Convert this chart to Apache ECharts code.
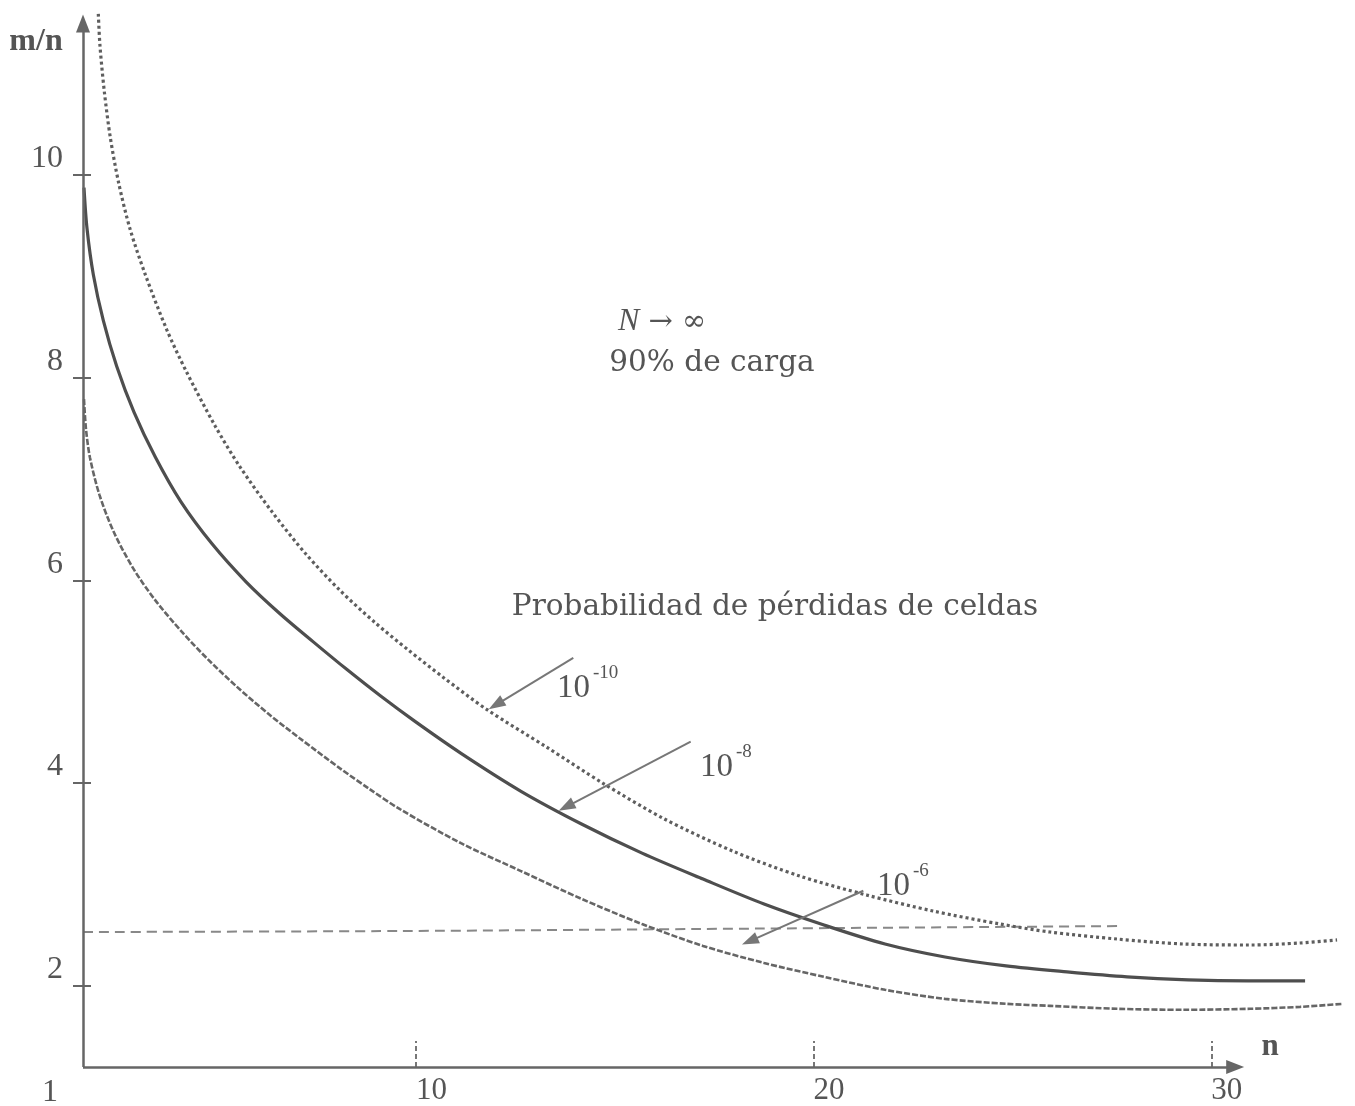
<!DOCTYPE html>
<html><head><meta charset="utf-8">
<script src="https://cdn.jsdelivr.net/npm/echarts@6/dist/echarts.min.js"></script>
<style>html,body{margin:0;padding:0;background:#fff}#c{width:1355px;height:1106px}</style>
</head><body><div id="c"></div>
<script>
// ---- data ----
const xTicks = [10, 20, 30];
const yTicks = [2, 4, 6, 8, 10];

// P = 1e-10 (dotted)
const nP10 = [2.015, 2.057, 2.166, 2.316, 2.528, 2.812, 3.197, 3.735, 4.220, 4.949, 5.578, 6.400, 7.230, 8.092, 8.972, 9.810, 10.690, 11.781, 13.297, 14.705, 16.214, 17.974, 19.659, 21.343, 23.003, 24.688, 25.945, 27.630, 29.289, 30.975, 32.232, 33.162];
const mP10 = [11.586, 11.270, 10.820, 10.368, 9.916, 9.465, 9.014, 8.472, 8.065, 7.524, 7.118, 6.666, 6.261, 5.900, 5.583, 5.312, 5.042, 4.726, 4.352, 3.998, 3.653, 3.328, 3.082, 2.895, 2.738, 2.610, 2.531, 2.462, 2.413, 2.403, 2.423, 2.453];

// P = 1e-8 (solid)
const nP8 = [1.655, 1.731, 1.889, 2.140, 2.477, 2.912, 3.448, 4.094, 4.874, 5.729, 6.583, 7.413, 8.268, 9.098, 9.978, 11.135, 12.643, 14.177, 15.686, 17.220, 18.754, 20.262, 21.796, 23.305, 24.839, 26.372, 27.881, 29.415, 30.924, 32.358];
const mP8 = [9.872, 9.469, 9.016, 8.563, 8.111, 7.658, 7.215, 6.773, 6.359, 5.985, 5.670, 5.395, 5.119, 4.863, 4.608, 4.293, 3.919, 3.594, 3.309, 3.053, 2.807, 2.600, 2.413, 2.285, 2.197, 2.138, 2.089, 2.059, 2.049, 2.049];

// P = 1e-6 (fine dashed)
const nP6 = [1.655, 1.705, 1.806, 2.040, 2.392, 2.880, 3.435, 4.112, 4.766, 5.495, 6.299, 7.086, 8.092, 8.846, 9.601, 11.135, 12.643, 14.177, 15.686, 17.220, 18.754, 20.262, 21.796, 23.305, 24.839, 25.945, 27.630, 29.289, 30.975, 32.232, 33.313];
const mP6 = [7.786, 7.491, 7.208, 6.847, 6.486, 6.125, 5.809, 5.493, 5.222, 4.951, 4.680, 4.440, 4.145, 3.938, 3.742, 3.407, 3.132, 2.856, 2.610, 2.394, 2.226, 2.089, 1.961, 1.872, 1.823, 1.803, 1.774, 1.764, 1.774, 1.793, 1.823];

// horizontal reference (dashed)
const nRef = [1.63, 9.601, 17.144, 27.705];
const mRef = [2.531, 2.541, 2.561, 2.590];

// annotation arrows: [fromN, fromM, toN, toM]
const arrows = [
  [13.958, 5.234, 12.015, 4.771],
  [16.910, 4.408, 13.780, 3.766],
  [21.250, 2.938, 18.394, 2.441]
];

const X_MIN = 1.63, X_MAX = 33.5, Y_MIN = 1.2, Y_MAX = 11.6;
const zip = (a, b) => a.map((v, i) => [v, b[i]]);

const axisColor = '#666';
const textColor = '#555';
const serif = '"Liberation Serif", "Times New Roman", serif';
const wideSerif = '"DejaVu Serif", serif';

const chart = echarts.init(document.getElementById('c'), null, {renderer: 'canvas'});
chart.setOption({
  animation: false,
  backgroundColor: '#fff',
  grid: {left: 83, right: 4.5, top: 12.4, bottom: 36.7, containLabel: false},
  xAxis: {
    type: 'value', min: X_MIN, max: X_MAX,
    axisLine: {show: false, onZero: false},
    splitLine: {show: false},
    axisTick: {show: true, inside: true, length: 26, customValues: xTicks,
      lineStyle: {color: '#777', width: 2, type: [5, 3]}},
    axisLabel: {show: true, customValues: xTicks, align: 'left', margin: 8,
      color: textColor, fontFamily: serif, fontSize: 31}
  },
  yAxis: [{
    type: 'value', min: Y_MIN, max: Y_MAX,
    axisLine: {show: false, onZero: false},
    splitLine: {show: false},
    axisTick: {show: true, inside: false, length: 10, customValues: yTicks,
      lineStyle: {color: axisColor, width: 2}},
    axisLabel: {show: true, customValues: yTicks, margin: 20, verticalAlign: 'bottom',
      color: textColor, fontFamily: serif, fontSize: 32}
  }, {
    type: 'value', min: Y_MIN, max: Y_MAX, position: 'left',
    axisLine: {show: false, onZero: false},
    splitLine: {show: false},
    axisTick: {show: true, inside: true, length: 8, customValues: yTicks,
      lineStyle: {color: axisColor, width: 2}},
    axisLabel: {show: false}
  }],
  series: [
    {
      name: '1e-10', type: 'line', data: zip(nP10, mP10), smooth: 0.3, showSymbol: false,
      lineStyle: {color: '#5e5e5e', width: 3.2, type: [3, 3]}, z: 3
    },
    {
      name: '1e-8', type: 'line', data: zip(nP8, mP8), smooth: 0.3, showSymbol: false,
      lineStyle: {color: '#4e4e4e', width: 3.2, type: 'solid'}, z: 3
    },
    {
      name: '1e-6', type: 'line', data: zip(nP6, mP6), smooth: 0.3, showSymbol: false,
      lineStyle: {color: '#666', width: 2.6, type: [6, 2]}, z: 3
    },
    {
      name: 'ref', type: 'line', data: zip(nRef, mRef), smooth: 0.3, showSymbol: false,
      lineStyle: {color: '#888', width: 2, type: [10, 6]}, z: 2
    },
    {
      name: 'axes', type: 'line', data: [], z: 4,
      markLine: {
        silent: true, animation: false,
        symbol: ['none', 'triangle'], symbolSize: [14, 18],
        label: {show: false},
        lineStyle: {color: axisColor, width: 2.5, type: 'solid'},
        data: [
          [{coord: [X_MIN, Y_MIN]}, {coord: [X_MIN, 11.49]}],
          [{coord: [X_MIN, Y_MIN]}, {coord: [30.6, Y_MIN]}]
        ]
      }
    },
    {
      name: 'arrows', type: 'line', data: [], z: 4,
      markLine: {
        silent: true, animation: false,
        symbol: ['none', 'triangle'], symbolSize: [12, 17],
        label: {show: false},
        lineStyle: {color: '#777', width: 2, type: 'solid'},
        data: arrows.map(a => [{coord: [a[0], a[1]]}, {coord: [a[2], a[3]]}])
      }
    }
  ],
  graphic: [
    {type: 'text', x: 36, y: 42, style: {text: 'm/n', font: 'bold 32px ' + serif, fill: textColor, align: 'center', verticalAlign: 'middle'}},
    {type: 'text', x: 1270, y: 1047, style: {text: 'n', font: 'bold 31px ' + serif, fill: textColor, align: 'center', verticalAlign: 'middle'}},
    {type: 'text', x: 50, y: 1093, style: {text: '1', font: '32px ' + serif, fill: textColor, align: 'center', verticalAlign: 'middle'}},
    {type: 'text', x: 662, y: 322, style: {
      text: '{i|N} \u2192 \u221E', font: '29px ' + wideSerif, fill: textColor, align: 'center', verticalAlign: 'middle',
      rich: {i: {fontStyle: 'italic', fontFamily: serif, fontSize: 32, fill: textColor}}}},
    {type: 'text', x: 712, y: 363, style: {text: '90% de carga', font: '29.5px ' + wideSerif, fill: textColor, align: 'center', verticalAlign: 'middle'}},
    {type: 'text', x: 775, y: 607, style: {text: 'Probabilidad de pérdidas de celdas', font: '29.5px ' + wideSerif, fill: textColor, align: 'center', verticalAlign: 'middle'}},
    {type: 'text', x: 557, y: 688, style: {text: '10', font: '33px ' + serif, fill: textColor, align: 'left', verticalAlign: 'middle'}},
    {type: 'text', x: 593, y: 673, style: {text: '-10', font: '19px ' + serif, fill: textColor, align: 'left', verticalAlign: 'middle'}},
    {type: 'text', x: 700, y: 767, style: {text: '10', font: '33px ' + serif, fill: textColor, align: 'left', verticalAlign: 'middle'}},
    {type: 'text', x: 736, y: 752, style: {text: '-8', font: '19px ' + serif, fill: textColor, align: 'left', verticalAlign: 'middle'}},
    {type: 'text', x: 877, y: 886, style: {text: '10', font: '33px ' + serif, fill: textColor, align: 'left', verticalAlign: 'middle'}},
    {type: 'text', x: 913, y: 871, style: {text: '-6', font: '19px ' + serif, fill: textColor, align: 'left', verticalAlign: 'middle'}}
  ]
});
</script>
</body></html>
